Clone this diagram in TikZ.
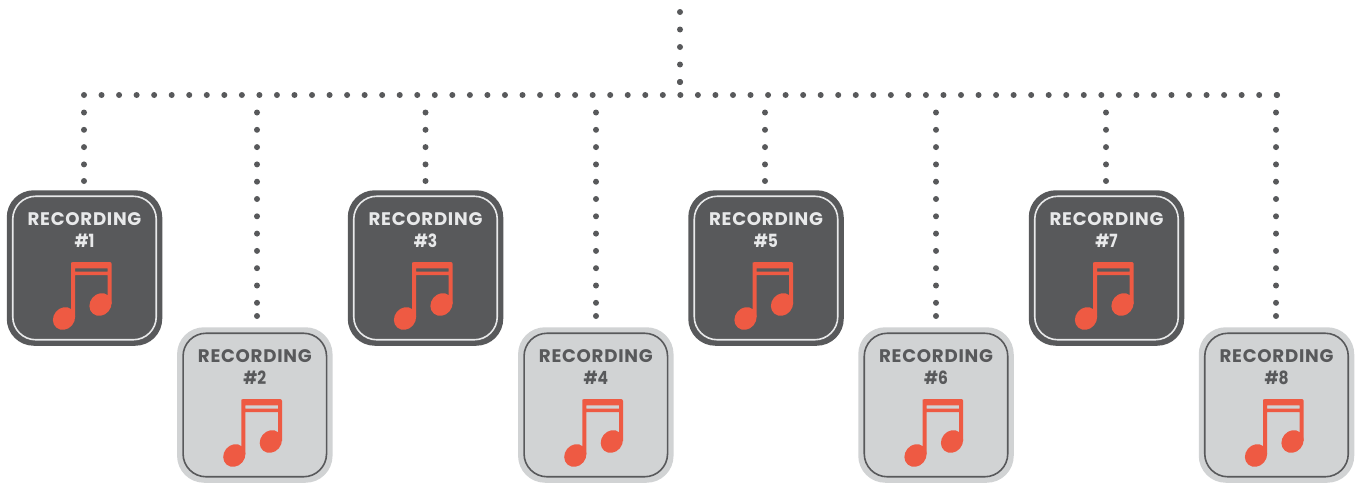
\documentclass[tikz,border=0pt]{standalone}
\usepackage{fontspec}
\setmainfont{Poppins}
\usetikzlibrary{calc}
\definecolor{darkgrey}{HTML}{58595B}
\definecolor{lightgrey}{HTML}{D1D3D4}
\definecolor{notered}{HTML}{EE5A43}
\definecolor{paletext}{HTML}{E8E9EA}
\newcommand{\numtext}[1]{{\addfontfeature{LetterSpace=0,FakeStretch=0.85}\##1}}
\tikzset{
  x=1pt,y=-1pt,
  dotlink/.style={draw=darkgrey,line width=6pt,line cap=round,dash pattern=on 0pt off 17.54pt},
  enddot/.style={circle,fill=darkgrey,inner sep=0pt,minimum size=6pt},
  outerbox/.style={rectangle,rounded corners=27pt,minimum size=155.5pt,inner sep=0pt,draw=none},
  innerbox/.style={rectangle,rounded corners=23pt,minimum size=143.5pt,inner sep=0pt,line width=1.6pt,fill=none},
  label/.style={font=\bfseries\fontsize{18.2}{22}\selectfont\addfontfeature{LetterSpace=4},align=center,inner sep=0pt,anchor=base},
}
\newcommand{\musicnote}[1]{%
  \begin{scope}[shift={(#1)}]
    \fill[notered,even odd rule]
      (-13.5,-6) -- (-13.5,49) -- (-9.5,49) -- (-9.5,7) -- (23.2,7) -- (23.2,36) -- (27.2,36)
      -- (27.2,-4) arc[start angle=0,end angle=-90,radius=2]
      -- (-11.5,-6) arc[start angle=-90,end angle=-180,radius=2] -- cycle
      (-9.5,0.3) rectangle (23.2,3.7);
    \fill[notered,rotate around={50:(-20.5,50.5)}] (-20.5,50.5) ellipse[x radius=11.9,y radius=10.5];
    \fill[notered,rotate around={50:(16,36.5)}] (16,36.5) ellipse[x radius=11.9,y radius=10.5];
  \end{scope}}
\newcommand{\recbox}[5]{% name, x, y, number, 0=dark/1=light
  \ifnum#5=0
    \node[outerbox,fill=darkgrey] (r#1) at (#2,#3) {};
    \node[innerbox,draw=paletext] (i#1) at (r#1) {};
    \node[label,text=paletext] (t#1) at ($(r#1)+(0,-21)$) {RECORDING\\\numtext{#4}};
  \else
    \node[outerbox,fill=lightgrey] (r#1) at (#2,#3) {};
    \node[innerbox,draw=darkgrey] (i#1) at (r#1) {};
    \node[label,text=darkgrey] (t#1) at ($(r#1)+(0,-21)$) {RECORDING\\\numtext{#4}};
  \fi
  \musicnote{r#1}}
\begin{document}
\begin{tikzpicture}
\useasboundingbox (0,0) rectangle (1356,482);
\recbox{1}{84.5}{268}{1}{0}
\recbox{2}{254.8}{405}{2}{1}
\recbox{3}{425.5}{268}{3}{0}
\recbox{4}{595.8}{405}{4}{1}
\recbox{5}{766}{268}{5}{0}
\recbox{6}{936}{405}{6}{1}
\recbox{7}{1106.5}{268}{7}{0}
\recbox{8}{1276.5}{405}{8}{1}
% bus and top line
\coordinate (top) at (680,12);
\coordinate (hub) at (680,82);
\coordinate (busL) at (84,95);
\coordinate (busR) at (1277,95);
\draw[dotlink] (busL) -- (busR);
\node[enddot] at (busR) {};
\draw[dotlink,dash pattern=on 0pt off 17.5pt] (top) -- (hub);
\node[enddot] at (hub) {};
% drops
\foreach \n/\x/\e in {1/84/181,2/257/316,3/425.5/181,4/596/316,5/765/181,6/936/316,7/1106/181,8/1276/316}{
  \coordinate (s\n) at (\x,112.5);
  \coordinate (e\n) at (\x,\e);
  \draw[dotlink,dash pattern=on 0pt off 17.3pt] (s\n) -- (e\n);
  \node[enddot] at (e\n) {};
}
\end{tikzpicture}
\end{document}
